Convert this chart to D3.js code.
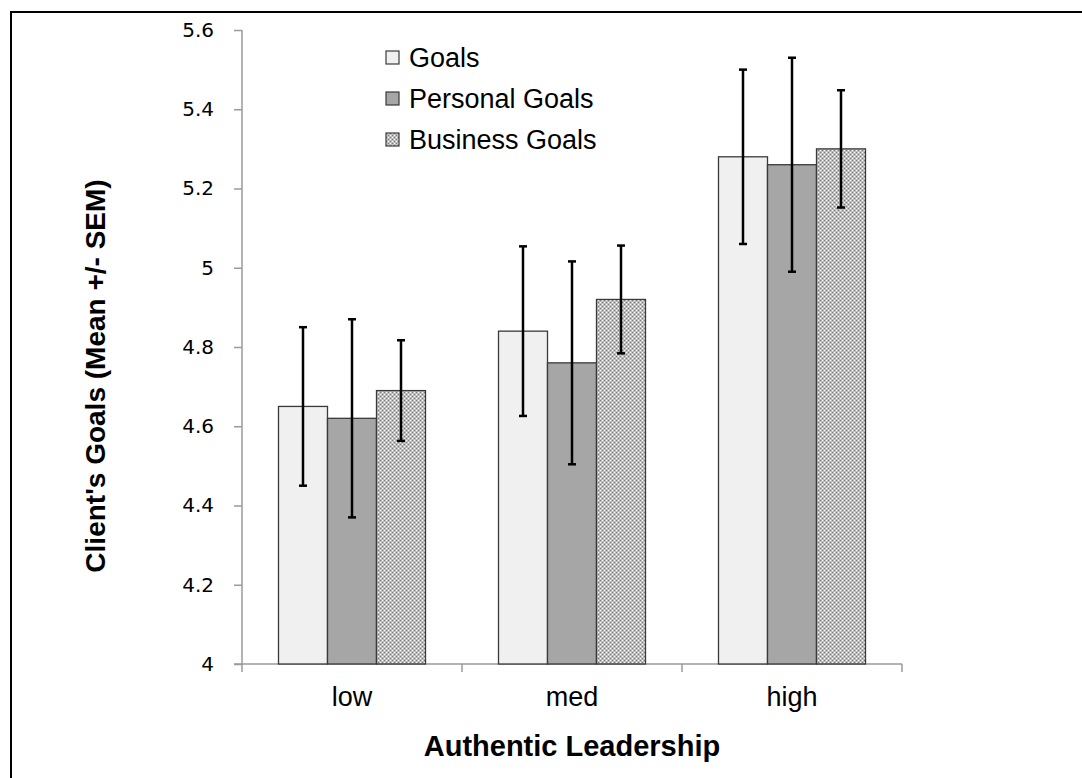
<!DOCTYPE html>
<html>
<head>
<meta charset="utf-8">
<script src="https://cdn.jsdelivr.net/npm/d3@7"></script>
<style>
  body { margin: 0; background: #fff; }
  svg { display: block; }
</style>
</head>
<body>
<svg id="chart"></svg>
<script>
// ---- Data ----
const categories = ['low', 'med', 'high'];
const seriesNames = ['Goals', 'Personal Goals', 'Business Goals'];
const meanValues = [
  [4.65, 4.62, 4.69],
  [4.84, 4.76, 4.92],
  [5.28, 5.26, 5.30]
];
const semValues = [
  [0.20, 0.25, 0.127],
  [0.214, 0.256, 0.136],
  [0.22, 0.27, 0.148]
];
const yTicks = [4, 4.2, 4.4, 4.6, 4.8, 5, 5.2, 5.4, 5.6];

const width = 1082, height = 778;
const svg = d3.select('#chart').attr('width', width).attr('height', height);

// pattern for the business bars
const defs = svg.append('defs');
const pat = defs.append('pattern')
  .attr('id', 'checker')
  .attr('width', 4).attr('height', 4)
  .attr('patternUnits', 'userSpaceOnUse');
pat.append('rect').attr('width', 4).attr('height', 4).attr('fill', '#bdbdbd');
pat.append('rect').attr('x', 0).attr('y', 0).attr('width', 1).attr('height', 1).attr('fill', '#fff');
pat.append('rect').attr('x', 2).attr('y', 2).attr('width', 1).attr('height', 1).attr('fill', '#fff');
pat.append('rect').attr('x', 2).attr('y', 0).attr('width', 1).attr('height', 1).attr('fill', '#7a7a7a');
pat.append('rect').attr('x', 0).attr('y', 2).attr('width', 1).attr('height', 1).attr('fill', '#7a7a7a');

const fills = ['#f0f0f0', '#a6a6a6', 'url(#checker)'];
const font = '"Liberation Sans", Arial, sans-serif';

// outer frame (right/bottom edges run off the picture)
svg.append('rect')
  .attr('x', 11).attr('y', 12)
  .attr('width', 1090).attr('height', 800)
  .attr('fill', 'none').attr('stroke', '#000').attr('stroke-width', 2);

const plot = { left: 242, right: 902, top: 30, bottom: 664 };

const x0 = d3.scaleBand().domain(categories).range([plot.left, plot.right]);
const x1 = d3.scaleBand().domain(seriesNames).range([0, x0.bandwidth()]).paddingInner(0).paddingOuter(0.745);
const y = d3.scaleLinear().domain([4, 5.6]).range([plot.bottom, plot.top]);

// ---- Axes ----
const axisColor = '#9a9a9a';

const yAxis = svg.append('g')
  .attr('transform', `translate(${plot.left},0)`)
  .call(d3.axisLeft(y).tickValues(yTicks).tickSize(8).tickPadding(20).tickFormat(d3.format('')));
yAxis.select('.domain').attr('stroke', axisColor).attr('stroke-width', 1.5)
  .attr('d', `M0,${plot.top}V${plot.bottom}`);
yAxis.selectAll('.tick line').attr('stroke', axisColor).attr('stroke-width', 1.5);
yAxis.selectAll('.tick text')
  .attr('fill', '#000')
  .style('font-family', '"DejaVu Sans", Verdana, sans-serif')
  .style('font-size', '20px');

const xAxis = svg.append('g')
  .attr('transform', `translate(0,${plot.bottom})`)
  .call(d3.axisBottom(x0).tickSize(0));
xAxis.select('.domain').attr('stroke', axisColor).attr('stroke-width', 1.5)
  .attr('d', `M${plot.left - 8},0H${plot.right}`);
xAxis.selectAll('.tick text')
  .attr('fill', '#000')
  .attr('y', 42).attr('dy', 0)
  .style('font-family', font)
  .style('font-size', '27px');

// category boundary ticks
const bounds = [plot.left].concat(categories.map(c => x0(c) + x0.bandwidth()));
svg.append('g').selectAll('line')
  .data(bounds)
  .join('line')
  .attr('x1', d => d).attr('x2', d => d)
  .attr('y1', plot.bottom).attr('y2', plot.bottom + 8)
  .attr('stroke', axisColor).attr('stroke-width', 1.5);

// ---- Bars ----
const groups = svg.append('g').selectAll('g')
  .data(categories)
  .join('g')
  .attr('transform', d => `translate(${x0(d)},0)`);

groups.selectAll('rect')
  .data((c, i) => seriesNames.map((s, j) => ({ s, j, v: meanValues[i][j] })))
  .join('rect')
  .attr('x', d => x1(d.s))
  .attr('y', d => y(d.v))
  .attr('width', x1.bandwidth())
  .attr('height', d => y(4) - y(d.v))
  .attr('fill', d => fills[d.j])
  .attr('stroke', '#3a3a3a')
  .attr('stroke-width', 1.3);

// ---- Error bars ----
const errs = groups.selectAll('g.err')
  .data((c, i) => seriesNames.map((s, j) => ({ s, v: meanValues[i][j], e: semValues[i][j] })))
  .join('g')
  .attr('class', 'err')
  .attr('transform', d => `translate(${x1(d.s) + x1.bandwidth() / 2},0)`);

errs.append('line')
  .attr('y1', d => y(d.v + d.e)).attr('y2', d => y(d.v - d.e))
  .attr('stroke', '#000').attr('stroke-width', 2.5);
errs.selectAll('line.cap')
  .data(d => [d.v + d.e, d.v - d.e])
  .join('line')
  .attr('class', 'cap')
  .attr('x1', -4).attr('x2', 4)
  .attr('y1', d => y(d)).attr('y2', d => y(d))
  .attr('stroke', '#000').attr('stroke-width', 2.5);

// ---- Titles ----
svg.append('text')
  .attr('x', (plot.left + plot.right) / 2)
  .attr('y', 756)
  .attr('text-anchor', 'middle')
  .style('font-family', font)
  .style('font-size', '29px')
  .style('font-weight', 'bold')
  .text('Authentic Leadership');

svg.append('text')
  .attr('transform', `translate(105,376) rotate(-90)`)
  .attr('text-anchor', 'middle')
  .style('font-family', font)
  .style('font-size', '28px')
  .style('font-weight', 'bold')
  .text("Client's Goals (Mean +/- SEM)");

// ---- Legend ----
const legend = svg.append('g')
  .selectAll('g')
  .data(seriesNames)
  .join('g')
  .attr('transform', (d, i) => `translate(386,${57 + i * 41})`);

legend.append('rect')
  .attr('x', 0).attr('y', -6)
  .attr('width', 13).attr('height', 13)
  .attr('fill', (d, i) => fills[i])
  .attr('stroke', '#3a3a3a')
  .attr('stroke-width', 1.2);

legend.append('text')
  .attr('x', 23).attr('y', 0)
  .attr('dy', '0.36em')
  .style('font-family', font)
  .style('font-size', '27px')
  .text(d => d);
</script>
</body>
</html>
